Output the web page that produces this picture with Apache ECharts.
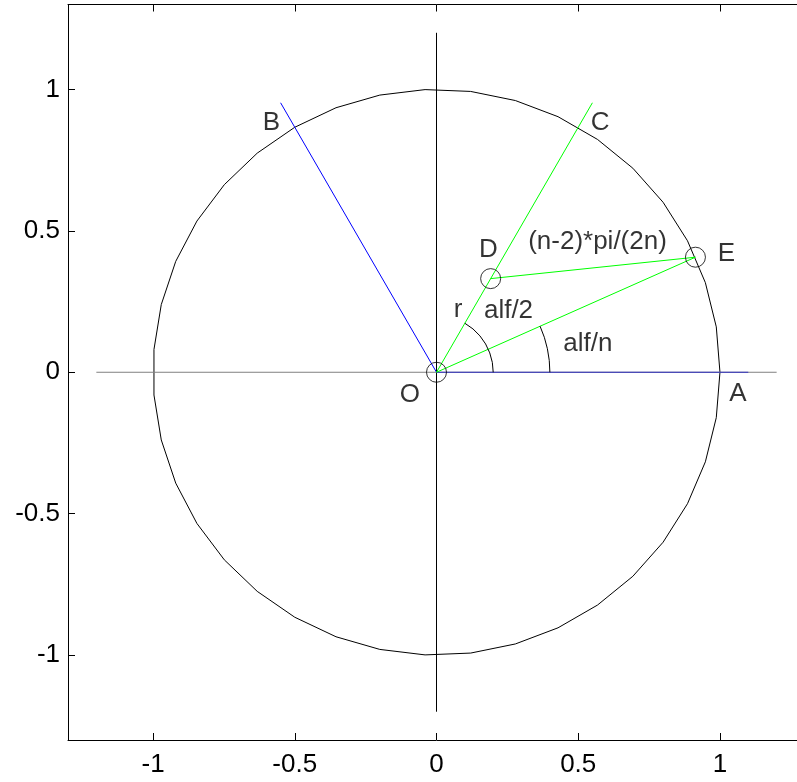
<!DOCTYPE html>
<html><head><meta charset="utf-8">
<script src="https://cdn.jsdelivr.net/npm/echarts@6/dist/echarts.min.js"></script>
<style>html,body{margin:0;padding:0;background:#fff;overflow:hidden}#c{width:820px;height:782px}</style>
</head><body><div id="c"></div>
<script>
// Axis ticks
const tickValues = [-1, -0.5, 0, 0.5, 1];
const axisMin = -1.3, axisMax = 1.3;

// Unit circle polygon vertices (40 vertices)
const circleX = [1, 0.98705, 0.94853, 0.88547, 0.79944, 0.69273, 0.56807, 0.42869, 0.27822, 0.12054,
  -0.04027, -0.20003, -0.35460, -0.5, -0.63245, -0.74852, -0.84519, -0.91998, -0.97094, -0.99676,
  -0.99676, -0.97094, -0.91998, -0.84519, -0.74852, -0.63245, -0.5, -0.35460, -0.20003, -0.04027,
  0.12054, 0.27822, 0.42869, 0.56807, 0.69273, 0.79944, 0.88547, 0.94853, 0.98705, 1];
const circleY = [0, 0.16041, 0.31668, 0.46472, 0.60074, 0.72121, 0.82298, 0.90346, 0.96052, 0.99271,
  0.99919, 0.97979, 0.93502, 0.86603, 0.77460, 0.66313, 0.53448, 0.39197, 0.23932, 0.08047,
  -0.08047, -0.23932, -0.39197, -0.53448, -0.66313, -0.77460, -0.86603, -0.93502, -0.97979, -0.99919,
  -0.99271, -0.96052, -0.90346, -0.82298, -0.72121, -0.60074, -0.46472, -0.31668, -0.16041, 0];

// Reference axes lines
const hLineX = [-1.2, 1.2], hLineY = [0, 0];
const vLineX = [0, 0], vLineY = [-1.2, 1.2];

// Segments
const oaX = [0, 1.1], oaY = [0, 0];
const obX = [0, -0.55], obY = [0, 0.9526];
const ocX = [0, 0.55], ocY = [0, 0.9526];
const oeX = [0, 0.9135], oeY = [0, 0.4067];
const deX = [0.191, 0.9135], deY = [0.331, 0.4067];

// Angle arcs
const arc1X = [0.1, 0.1286, 0.1532, 0.1732, 0.1879, 0.1970, 0.2];
const arc1Y = [0.1732, 0.1532, 0.1286, 0.1, 0.0684, 0.0347, 0];
const arc2X = [0.3654, 0.3804, 0.3912, 0.3978, 0.4];
const arc2Y = [0.1627, 0.1236, 0.0832, 0.0418, 0];

// Point markers O, D, E
const markX = [0, 0.191, 0.9135];
const markY = [0, 0.331, 0.4067];

// Text labels
const labelText = ['B', 'C', 'D', 'E', 'O', 'A', 'r', 'alf/2', 'alf/n', '(n-2)*pi/(2n)'];
const labelX = [-0.582, 0.577, 0.183, 1.023, -0.094, 1.063, 0.076, 0.254, 0.534, 0.568];
const labelY = [0.883, 0.880, 0.434, 0.418, -0.080, -0.077, 0.219, 0.216, 0.099, 0.462];

const FONT = "'Liberation Sans', Arial, Helvetica, sans-serif";
const zip = (xs, ys) => xs.map((x, i) => [x, ys[i]]);

function lineSeries(xs, ys, color) {
  return {
    type: 'line', data: zip(xs, ys), symbol: 'none', silent: true, animation: false,
    lineStyle: { color: color, width: 1 }, z: 2
  };
}

const chart = echarts.init(document.getElementById('c'), null, { renderer: 'canvas' });

function xAx(pos, showLabel) {
  return {
    type: 'value', position: pos, min: axisMin, max: axisMax,
    axisLine: { show: true, onZero: false, lineStyle: { color: '#000', width: 1 } },
    axisTick: { show: true, inside: true, length: 7, customValues: tickValues, lineStyle: { color: '#000' } },
    axisLabel: { show: showLabel, customValues: tickValues, color: '#000', fontSize: 26, fontFamily: FONT, margin: 12 },
    splitLine: { show: false }
  };
}
function yAx(pos, showLabel) {
  return {
    type: 'value', position: pos, min: axisMin, max: axisMax,
    axisLine: { show: true, onZero: false, lineStyle: { color: '#000', width: 1 } },
    axisTick: { show: true, inside: true, length: 7, customValues: tickValues, lineStyle: { color: '#000' } },
    axisLabel: { show: showLabel, customValues: tickValues, color: '#000', fontSize: 26, fontFamily: FONT, margin: 8 },
    splitLine: { show: false }
  };
}

chart.setOption({
  animation: false,
  backgroundColor: '#fff',
  grid: { left: 68, top: 4.5, width: 737, height: 735.5, containLabel: false },
  xAxis: [xAx('bottom', true), xAx('top', false)],
  yAxis: [yAx('left', true), yAx('right', false)],
  series: [
    lineSeries(circleX, circleY, '#000'),
    lineSeries(hLineX, hLineY, '#808080'),
    lineSeries(vLineX, vLineY, '#000'),
    lineSeries(oaX, oaY, '#3030c0'),
    lineSeries(obX, obY, '#0000ff'),
    lineSeries(ocX, ocY, '#00ff00'),
    lineSeries(oeX, oeY, '#00ff00'),
    lineSeries(deX, deY, '#00ff00'),
    lineSeries(arc1X, arc1Y, '#000'),
    lineSeries(arc2X, arc2Y, '#000'),
    {
      type: 'scatter', data: zip(markX, markY), symbol: 'circle', symbolSize: 20, silent: true,
      itemStyle: { color: 'rgba(0,0,0,0)', borderColor: '#000', borderWidth: 1 }, z: 3
    },
    {
      type: 'scatter', silent: true, symbolSize: 1,
      data: labelText.map((t, i) => ({ value: [labelX[i], labelY[i]], name: t })),
      itemStyle: { color: 'rgba(0,0,0,0)' },
      label: {
        show: true, position: 'inside', formatter: p => p.name,
        color: '#000', fontSize: 26, fontFamily: FONT, align: 'center', verticalAlign: 'middle'
      }, z: 4
    }
  ]
});
</script>
</body></html>
